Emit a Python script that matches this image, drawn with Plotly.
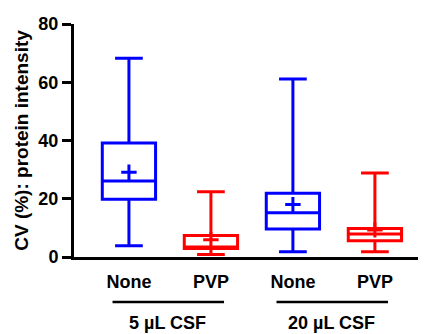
import plotly.graph_objects as go

# Data
positions = [0, 1, 2, 3]
tick_labels = ["None", "PVP", "None", "PVP"]
group_labels = ["5 µL CSF", "20 µL CSF"]
colors = ["#0000FF", "#FF0000", "#0000FF", "#FF0000"]
lower_whisker = [3.9, 0.9, 1.8, 1.8]
q1 = [19.8, 2.9, 9.6, 5.6]
median = [26.1, 3.4, 15.2, 7.9]
q3 = [39.1, 7.4, 21.9, 9.8]
upper_whisker = [68.2, 22.4, 61.1, 28.8]
mean = [29.1, 5.9, 18.0, 9.3]

FONT = "Liberation Sans, Arial, sans-serif"

fig = go.Figure()
for i, p in enumerate(positions):
    fig.add_trace(go.Box(
        x=[p], q1=[q1[i]], median=[median[i]], q3=[q3[i]],
        lowerfence=[lower_whisker[i]], upperfence=[upper_whisker[i]],
        width=0.65, whiskerwidth=0.52,
        line=dict(color=colors[i], width=3),
        fillcolor="rgba(255,255,255,0)",
        boxpoints=False, showlegend=False, hoverinfo="skip",
    ))
    fig.add_trace(go.Scatter(
        x=[p], y=[mean[i]], mode="markers",
        marker=dict(symbol="cross-thin", size=11,
                    line=dict(color=colors[i], width=3)),
        showlegend=False, hoverinfo="skip",
    ))

# group bars and labels
groups = [(0, 1), (2, 3)]
for gi, (a, b) in enumerate(groups):
    fig.add_shape(type="line", xref="x", yref="paper",
                  x0=positions[a] - 0.2, x1=positions[b] + 0.16,
                  y0=-0.193, y1=-0.193,
                  line=dict(color="black", width=2.5))
    fig.add_annotation(xref="x", yref="paper",
                       x=(positions[a] + positions[b]) / 2 - 0.03, y=-0.285,
                       text=group_labels[gi], showarrow=False,
                       font=dict(family=FONT, size=18, color="black", weight="bold"),
                       yanchor="middle")

fig.update_layout(
    width=418, height=326,
    margin=dict(l=66, r=6, t=11, b=77),
    plot_bgcolor="white", paper_bgcolor="white",
    font=dict(family=FONT, size=18, color="black", weight="bold"),
)
fig.update_xaxes(
    range=[-0.67, 3.55], tickvals=positions, ticktext=tick_labels,
    showline=True, linecolor="black", linewidth=3,
    ticks="outside", ticklen=6, tickcolor="rgba(0,0,0,0)",
    showgrid=False, zeroline=False,
    tickfont=dict(family=FONT, size=18, color="black", weight="bold"),
)
fig.update_yaxes(
    range=[0, 80], tickvals=[0, 20, 40, 60, 80],
    showline=True, linecolor="black", linewidth=3,
    ticks="outside", ticklen=9, tickwidth=3, tickcolor="black",
    showgrid=False, zeroline=False,
    tickfont=dict(family=FONT, size=18, color="black", weight="bold"),
    title=dict(text="CV (%): protein intensity", standoff=5,
               font=dict(family=FONT, size=19, color="black", weight="bold")),
)

fig.write_html("out.html")
